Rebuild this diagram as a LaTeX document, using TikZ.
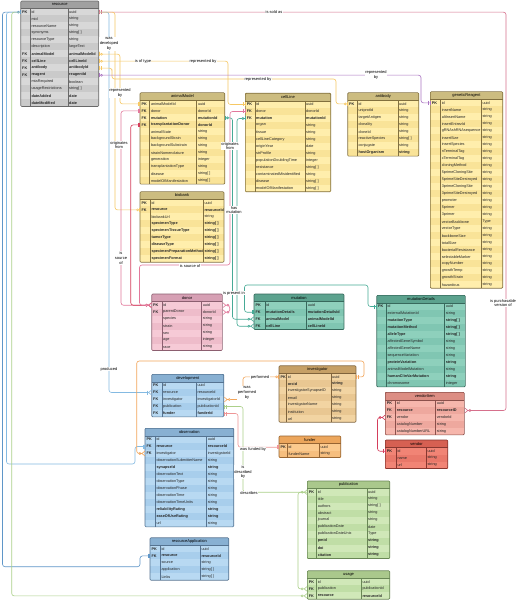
\documentclass[tikz,border=0pt]{standalone}
\usepackage{fontspec}
\setmainfont{Liberation Sans}
\usetikzlibrary{arrows.meta}
% table palettes: H header, A/B rows, D border
\definecolor{gryH}{RGB}{160,160,160}\definecolor{gryA}{RGB}{216,216,216}\definecolor{gryB}{RGB}{202,202,202}\definecolor{gryD}{RGB}{105,105,105}
\definecolor{yelH}{RGB}{204,188,128}\definecolor{yelA}{RGB}{255,238,172}\definecolor{yelB}{RGB}{249,227,152}\definecolor{yelD}{RGB}{130,112,62}
\definecolor{pnkH}{RGB}{214,160,180}\definecolor{pnkA}{RGB}{246,202,214}\definecolor{pnkB}{RGB}{238,188,202}\definecolor{pnkD}{RGB}{140,95,112}
\definecolor{tealH}{RGB}{92,162,142}\definecolor{tealA}{RGB}{142,208,188}\definecolor{tealB}{RGB}{128,198,178}\definecolor{tealD}{RGB}{55,105,92}
\definecolor{invH}{RGB}{198,160,102}\definecolor{invA}{RGB}{242,212,162}\definecolor{invB}{RGB}{233,199,146}\definecolor{invD}{RGB}{128,100,60}
\definecolor{funH}{RGB}{236,166,92}\definecolor{funA}{RGB}{251,202,142}\definecolor{funB}{RGB}{246,190,126}\definecolor{funD}{RGB}{150,100,50}
\definecolor{bluH}{RGB}{136,176,210}\definecolor{bluA}{RGB}{184,217,242}\definecolor{bluB}{RGB}{168,206,236}\definecolor{bluD}{RGB}{85,115,145}
\definecolor{grnH}{RGB}{170,200,140}\definecolor{grnA}{RGB}{208,232,184}\definecolor{grnB}{RGB}{192,222,166}\definecolor{grnD}{RGB}{105,135,85}
\definecolor{vitH}{RGB}{220,142,132}\definecolor{vitA}{RGB}{246,182,172}\definecolor{vitB}{RGB}{238,168,158}\definecolor{vitD}{RGB}{140,80,75}
\definecolor{venH}{RGB}{214,96,82}\definecolor{venA}{RGB}{241,132,117}\definecolor{venB}{RGB}{233,120,106}\definecolor{venD}{RGB}{135,55,48}
% connector colours
\definecolor{cYel}{RGB}{246,200,100}
\definecolor{cPink}{RGB}{226,120,155}
\definecolor{cRed}{RGB}{212,62,92}
\definecolor{cRose}{RGB}{214,112,140}
\definecolor{cPurple}{RGB}{172,118,195}
\definecolor{cTeal}{RGB}{70,170,150}
\definecolor{cBlue}{RGB}{132,186,226}
\definecolor{cBlueD}{RGB}{95,150,200}
\definecolor{cGreen}{RGB}{172,208,138}
\definecolor{cOrange}{RGB}{242,165,90}
\definecolor{cSalmon}{RGB}{238,150,150}
\tikzset{
  tabtxt/.style={font=\fontsize{3.8}{4.3}\selectfont, inner sep=0pt, anchor=west, text=black!85},
  keytxt/.style={font=\fontsize{3.8}{4.3}\selectfont\bfseries, inner sep=0pt, anchor=west, text=black!85},
  hdrtxt/.style={font=\fontsize{4}{4.5}\selectfont, inner sep=0pt},
  lbl/.style={font=\fontsize{4}{4.7}\selectfont, fill=white, inner sep=0.4pt, align=center},
  conn/.style={line width=0.6pt, rounded corners=2.5pt},
  one/.tip={Bar[width=4pt,sep=1.1pt] Bar[width=4pt]},
  zo/.tip={Circle[fill=white,length=2.6pt,width=2.6pt,sep=0.5pt] Bar[width=4pt]},
  zm/.tip={Circle[fill=white,length=2.6pt,width=2.6pt,sep=0.3pt] Straight Barb[reversed,length=2.8pt,width=4.6pt]},
  om/.tip={Bar[width=4pt,sep=0.5pt] Straight Barb[reversed,length=2.8pt,width=4.6pt]},
}
% #1 id, #2 x, #3 y, #4 key width, #5 name width, #6 type width, #7 palette, #8 title, #9 rows
\newcommand\ertable[9]{%
\begin{scope}[shift={(#2,#3)}]
\pgfmathsetmacro\ertW{#4+#5+#6}%
\fill[#7H] (0,0) rectangle (\ertW,7.5);
\node[hdrtxt] (#1) at (\ertW/2,3.75) {#8};
\foreach \cK/\cN/\cT/\cB [count=\ci from 0] in {#9}{%
  \ifodd\ci\def\ertRC{#7B}\else\def\ertRC{#7A}\fi
  \fill[\ertRC] (0,7.5+7*\ci) rectangle (\ertW,14.5+7*\ci);
  \node[inner sep=0pt, minimum width=\ertW pt, minimum height=7pt, anchor=north west] (#1-\cN) at (0,7.5+7*\ci) {};
  \node[keytxt] at (1.3,11+7*\ci) {\cK};
  \node[tabtxt] at (#4+1.3,11+7*\ci) {\ifnum\cB=1 \bfseries\fi\cN};
  \node[tabtxt] at (#4+#5+1.3,11+7*\ci) {\ifnum\cB=1 \bfseries\fi\cT};
  \draw[#7D, line width=0.3pt] (#4,7.5+7*\ci) -- ++(0,7) (#4+#5,7.5+7*\ci) -- ++(0,7);
  \xdef\ertLast{\ci}%
}
\draw[#7D, line width=0.4pt] (0,7.5) -- (\ertW,7.5);
\draw[#7D, line width=0.6pt, rounded corners=1pt] (0,0) rectangle (\ertW,14.5+7*\ertLast);
\end{scope}}
\begin{document}
\begin{tikzpicture}[x=1pt,y=-1pt]
\useasboundingbox (0,0) rectangle (520,601);
\fill[white] (0,0) rectangle (520,601);
% ---------------- tables ----------------
\ertable{res}{20.7}{1}{9.3}{37.7}{31}{gry}{resource}{PK/id/uuid/0,/mid/string/0,/resourceName/string/0,/synonyms/string[ ]/0,/resourceType/string/0,/description/largeText/0,FK/animalModel/animalModelId/1,FK/cellLine/cellLineId/1,FK/antibody/antibodyId/1,FK/reagent/reagentId/1,/mtaRequired/boolean/0,/usageRestrictions/string[ ]/0,/dateAdded/date/1,/dateModified/date/1}
\ertable{am}{140}{92.7}{9.5}{47}{28.2}{yel}{animalModel}{PK/animalModelId/uuid/0,FK/donor/donorId/0,FK/mutation/mutationId/1,FK/transplantationDonor/donorId/1,/animalState/string/0,/backgroundStrain/string/0,/backgroundSubstrain/string/0,/strainNomenclature/string/0,/generation/integer/0,/transplantationType/string/0,/disease/string[ ]/0,/modelOfManifestation/string[ ]/0}
\ertable{cl}{245.3}{93.3}{9.4}{50}{26}{yel}{cellLine}{PK/id/uuid/0,FK/donor/donorId/0,FK/mutation/mutationId/1,/organ/string/0,/tissue/string/0,/cellLineCategory/string/0,/originYear/date/0,/strProfile/string/0,/populationDoublingTime/integer/0,/resistance/string[ ]/0,/contaminatedMisidentified/string/0,/disease/string[ ]/0,/modelOfManifestation/string[ ]/0}
\ertable{ab}{347.7}{92.7}{9.3}{40.7}{21}{yel}{antibody}{PK/id/uuid/0,/uniprotId/string/0,/targetAntigen/string/0,/clonality/string/0,/cloneId/string/0,/reactiveSpecies/string[ ]/0,/conjugate/string/0,/hostOrganism/string/1}
\ertable{gr}{430.3}{91.7}{10}{40.7}{21.7}{yel}{geneticReagent}{PK/id/uuid/0,/insertName/string/0,/altInsertName/string/0,/insertEntrezId/string/0,/gRNAshRNAsequence/string/0,/insertSize/string/0,/insertSpecies/string/0,/nTerminalTag/string/0,/cTerminalTag/string/0,/cloningMethod/string/0,/5primeCloningSite/string/0,/5primeSiteDestroyed/string/0,/3primeCloningSite/string/0,/3primeSiteDestroyed/string/0,/promoter/string/0,/5primer/string/0,/3primer/string/0,/vectorBackbone/Type/0,/vectorType/string/0,/backboneSize/string/0,/totalSize/string/0,/bacterialResistance/string/0,/selectableMarker/string/0,/copyNumber/string/0,/growthTemp/string/0,/growthStrain/string/0,/hazardous/string/0}
\ertable{bb}{140}{191.7}{10}{53}{21}{yel}{biobank}{PK/id/uuid/0,FK/resource/resourceId/1,/biobankUrl/string/0,/specimenType/string[ ]/1,/specimenTissueType/string[ ]/1,/tumorType/string[ ]/1,/diseaseType/string[ ]/1,/specimenPreparationMethod/string[ ]/1,/specimenFormat/string[ ]/1}
\ertable{dn}{151.7}{294}{10}{39.6}{21}{pnk}{donor}{PK/id/uuid/0,FK/parentDonor/donorId/0,/species/string/0,/strain/string/0,/sex/string/0,/age/integer/0,/race/string/0}
\ertable{mu}{254}{294}{10.7}{41.6}{37.7}{teal}{mutation}{PK/id/uuid/0,FK/mutationDetails/mutationDetailsId/1,FK/animalModel/animalModelId/1,FK/cellLine/cellLineId/1}
\ertable{md}{376.7}{295.3}{9.3}{58.3}{21}{teal}{mutationDetails}{PK/id/uuid/0,/externalMutationId/string/0,/mutationType/string[ ]/1,/mutationMethod/string[ ]/1,/alleleType/string[ ]/1,/affectedGeneSymbol/string/0,/affectedGeneName/string/0,/sequenceVariation/string/0,/proteinVariation/string/1,/animalModelMutation/string/0,/humanClinVarMutation/string/1,/chromosome/integer/0}
\ertable{iv}{279}{365.7}{7.3}{44.4}{25.3}{inv}{investigator}{PK/id/uuid/0,/orcid/string/1,/investigatorSynapseID/string/0,/email/string/0,/investigatorName/string/0,/institution/string/0,/url/string/0}
\ertable{dv}{151.7}{374.3}{10}{34.3}{27.7}{blu}{development}{PK/id/uuid/0,FK/resource/resourceId/0,FK/investigator/investigatorId/0,FK/publication/publicationId/0,FK/funder/funderId/1}
\ertable{ob}{145}{428.3}{10}{51.3}{27.4}{blu}{observation}{PK/id/uuid/0,FK/resource/resourceId/1,FK/investigator/investigatorId/0,/observationSubmitterName/string/0,/synapseId/string/1,/observationText/string/0,/observationType/string/0,/observationPhase/string/0,/observationTime/string/0,/observationTimeUnits/string/0,/reliabilityRating/string/1,/easeOfUseRating/string/1,/url/string/0}
\ertable{fu}{279}{436}{8}{32}{21.7}{fun}{funder}{PK/id/uuid/0,/funderName/string/0}
\ertable{ra}{150}{537.7}{10}{40}{28.7}{blu}{resourceApplication}{PK/id/uuid/0,FK/resource/resourceId/1,/source/string/0,/application/string[ ]/0,/Links/string[ ]/0}
\ertable{pb}{307.3}{481}{9}{50.4}{23}{grn}{publication}{PK/id/uuid/0,/title/string/0,/authors/string[ ]/0,/abstract/string/0,/journal/string/0,/publicationDate/date/0,/publicationDateUnix/Type/0,/pmid/string/1,/doi/string/1,/citation/string/1}
\ertable{us}{307.3}{570.7}{9}{44.7}{28.7}{grn}{usage}{PK/id/uuid/0,FK/publication/publicationId/0,FK/resource/resourceId/1}
\ertable{vi}{385.3}{392.3}{10}{40}{29}{vit}{vendorItem}{PK/id/uuid/0,FK/resource/resourceID/1,FK/vendor/vendorId/0,/catalogNumber/string/0,/catalogNumberURL/string/0}
\ertable{ve}{385.3}{440}{10.7}{30}{21.7}{ven}{vendor}{PK/id/uuid/0,/name/string/0,/url/string/0}
% ---------------- connectors ----------------
% resource -> vendorItem
\draw[conn, cRose, one-zm] (res-id.east) -| (506,100) |- (vi-resource.east);
% resource -> development
\draw[conn, cBlue, -om] (res-id.east) -| (109,200) |- (dv-resource.west);
% resource -> biobank
\draw[conn, cYel, -zo] (res-id.east) -| (115,150) |- (bb-resource.west);
% resource -> animalModel / cellLine / antibody / geneticReagent
\draw[conn, cYel, zo-one] (res-animalModel.east) -| (120,80) |- (am-animalModelId.west);
\draw[conn, cYel, zo-one] (res-cellLine.east) -| (228,80) |- (cl-id.west);
\draw[conn, cYel, one-zo] (res-antibody.east) -| (112,72) |- (336,79) |- (ab-id.west);
\draw[conn, cPurple, zo-one] (res-reagent.east) -| (421,90) |- (gr-id.west);
% resource (left side) -> resourceApplication / observation / usage
\draw[conn, cBlueD, zo-one] (res-id.west) -| (2.5,300) |- (140,566.7) |- (ra-resource.west);
\draw[conn, cBlue, -one] (res-id.west) -| (6.5,300) |- (135,464) |- (ob-resource.west);
\draw[conn, cGreen, -zm] (res-id.west) -| (11.7,300) |- (us-resource.west);
% donors
\draw[conn, cPink, one-zm] (am-donor.west) -| (121,200) |- (dn-id.west);
\draw[conn, cRed, one-zm] (am-transplantationDonor.west) -| (130.7,200) |- (dn-id.west);
\draw[conn, cPink, one-zm] (cl-donor.west) -| (230,200) |- (139.5,265) |- (dn-id.west);
\draw[conn, cPink, zm-zm] (dn-parentDonor.east) -- ++(7,0) |- (dn-id.east);
% mutations
\draw[conn, cTeal, zo-zm] (am-mutation.east) -| (232.5,200) |- (mu-animalModel.west);
\draw[conn, cTeal, zo-zm] (cl-mutation.west) -| (237,200) |- (mu-cellLine.west);
\draw[conn, cTeal, one-one] (mu-mutationDetails.west) -| (244.5,300) |- (368,285) |- (md-id.west);
% investigator
\draw[conn, cOrange, zm-zo] (dv-investigator.east) -| (243,390) |- (iv-id.west);
\draw[conn, cOrange, zm-one] (ob-investigator.west) -| (136.7,400) |- (364,361) |- (iv-id.east);
% publication
\draw[conn, cGreen, one-zm] (dv-publication.east) -| (243,450) |- (pb-id.west);
\draw[conn, cGreen, zm-] (us-publication.west) -| (298,540) |- (pb-id.west);
% funder
\draw[conn, cSalmon, one-one] (dv-funder.east) -| (238,430) |- (fu-id.west);
% vendor
\draw[conn, cRed, zm-one] (vi-vendor.west) -| (377.5,430) |- (ve-id.west);
% ---------------- labels ----------------
\node[lbl] (l1) at (274,12) {is sold as};
\node[lbl] (l2) at (503,303) {is purchasable\\version of};
\node[lbl] (l3) at (109,44) {was\\developed\\by};
\node[lbl] (l4) at (109,369) {produced};
\node[lbl] (l5) at (143,61) {is of type};
\node[lbl] (l6) at (203,61) {represented by};
\node[lbl] (l7) at (258,79) {represented by};
\node[lbl] (l8) at (120,93) {represented\\by};
\node[lbl] (l9) at (376,75) {represented\\by};
\node[lbl] (l10) at (119,145) {originates\\from};
\node[lbl] (l11) at (230,146) {originates\\from};
\node[lbl] (l12) at (121,258) {is\\source\\of};
\node[lbl] (l13) at (190,266) {is source of};
\node[lbl] (l14) at (234,210) {has\\mutation};
\node[lbl] (l15) at (234,293) {is present in};
\node[lbl] (l16) at (260,377.5) {performed};
\node[lbl] (l17) at (247,393) {was\\performed\\by};
\node[lbl] (l18) at (253,449) {was funded by};
\node[lbl] (l19) at (243,472) {is\\described\\by};
\node[lbl] (l20) at (249,492.7) {describes};
\end{tikzpicture}
\end{document}
